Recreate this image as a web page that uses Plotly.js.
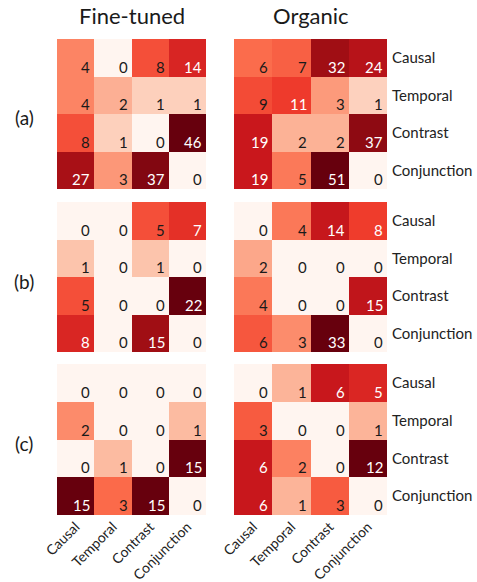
<!DOCTYPE html>
<html>
<head>
<meta charset="utf-8">
<script src="https://cdn.plot.ly/plotly-3.0.1.min.js"></script>
<style>html,body{margin:0;padding:0;background:#fff;}#chart{width:477px;height:582px;}</style>
</head>
<body>
<div id="chart"></div>
<script>
// ---- data ----
const categories = ['Causal', 'Temporal', 'Contrast', 'Conjunction'];
const columnTitles = ['Fine-tuned', 'Organic'];
const rowLabels = ['(a)', '(b)', '(c)'];
const fineA = [[4,0,8,14],[4,2,1,1],[8,1,0,46],[27,3,37,0]];
const organicA = [[6,7,32,24],[9,11,3,1],[19,2,2,37],[19,5,51,0]];
const fineB = [[0,0,5,7],[1,0,1,0],[5,0,0,22],[8,0,15,0]];
const organicB = [[0,4,14,8],[2,0,0,0],[4,0,0,15],[6,3,33,0]];
const fineC = [[0,0,0,0],[2,0,0,1],[0,1,0,15],[15,3,15,0]];
const organicC = [[0,1,6,5],[3,0,0,1],[6,2,0,12],[6,1,3,0]];

const panels = [
  [fineA, organicA],
  [fineB, organicB],
  [fineC, organicC]
];

// ---- styling ----
const FONT = 'Lato, "Open Sans", sans-serif';
const W = 477, H = 582;
const reds = [
  [0.0, '#fff5f0'], [0.125, '#fee0d2'], [0.25, '#fcbba1'], [0.375, '#fc9272'],
  [0.5, '#fb6a4a'], [0.625, '#ef3b2c'], [0.75, '#cb181d'], [0.875, '#a50f15'], [1.0, '#67000d']
];
const colX = [[57, 206], [234, 387]];          // px
const rowY = [[39, 189], [202, 352], [364, 515]]; // px from top
const toXd = p => [p[0] / W, p[1] / W];
const toYd = p => [1 - p[1] / H, 1 - p[0] / H];

const data = [];
const layout = {
  width: W, height: H,
  margin: {l: 0, r: 0, t: 0, b: 0},
  paper_bgcolor: '#fff', plot_bgcolor: '#fff',
  showlegend: false,
  font: {family: FONT, color: '#222', size: 15},
  annotations: []
};

let k = 0;
for (let r = 0; r < 3; r++) {
  for (let c = 0; c < 2; c++) {
    k++;
    const m = panels[r][c];
    let mx = 0;
    m.forEach(row => row.forEach(v => { if (v > mx) mx = v; }));
    const z = m.map(row => row.map(v => Math.log1p(v)));
    const zmax = Math.log1p(mx);
    const xa = 'x' + (k === 1 ? '' : k), ya = 'y' + (k === 1 ? '' : k);
    data.push({
      type: 'heatmap',
      z: z,
      x: [0, 1, 2, 3], y: [0, 1, 2, 3],
      zmin: 0, zmax: zmax,
      colorscale: reds,
      showscale: false,
      hoverinfo: 'skip',
      xaxis: xa, yaxis: ya
    });
    const xk = 'xaxis' + (k === 1 ? '' : k), yk = 'yaxis' + (k === 1 ? '' : k);
    layout[xk] = {
      domain: toXd(colX[c]), anchor: ya,
      range: [-0.5, 3.5], showgrid: false, zeroline: false, showline: false,
      tickvals: [0, 1, 2, 3], ticktext: categories,
      showticklabels: r === 2, ticks: '', tickangle: -45,
      ticklabelstandoff: 0,
      tickfont: {family: FONT, size: 14, color: '#222'}
    };
    layout[yk] = {
      domain: toYd(rowY[r]), anchor: xa,
      range: [3.5, -0.5], showgrid: false, zeroline: false, showline: false,
      tickvals: [0, 1, 2, 3], ticktext: categories,
      showticklabels: c === 1, side: 'right', ticks: '',
      ticklabelstandoff: 4,
      tickfont: {family: FONT, size: 15, color: '#222'}
    };
    for (let i = 0; i < 4; i++) {
      for (let j = 0; j < 4; j++) {
        const v = m[i][j];
        const t = zmax > 0 ? Math.log1p(v) / zmax : 0;
        layout.annotations.push({
          xref: xa, yref: ya,
          x: j + 0.5, y: i + 0.5,
          xanchor: 'right', yanchor: 'bottom',
          xshift: -2, yshift: -1,
          text: String(v), showarrow: false,
          font: {family: FONT, size: 15, color: t > 0.6 ? '#ffffff' : '#1a1a1a'}
        });
      }
    }
  }
}

// column titles
columnTitles.forEach((t, c) => {
  layout.annotations.push({
    xref: 'paper', yref: 'paper',
    x: (colX[c][0] + colX[c][1]) / 2 / W, y: 1 - 15 / H,
    xanchor: 'center', yanchor: 'middle',
    text: t, showarrow: false,
    font: {family: FONT, size: 22, color: '#1a1a1a'}
  });
});
// row labels
rowLabels.forEach((t, r) => {
  layout.annotations.push({
    xref: 'paper', yref: 'paper',
    x: 24 / W, y: 1 - ((rowY[r][0] + rowY[r][1]) / 2 + 4) / H,
    xanchor: 'center', yanchor: 'middle',
    text: t, showarrow: false,
    font: {family: FONT, size: 19, color: '#1a1a1a'}
  });
});

Plotly.newPlot('chart', data, layout, {staticPlot: true, displayModeBar: false});
</script>
</body>
</html>
